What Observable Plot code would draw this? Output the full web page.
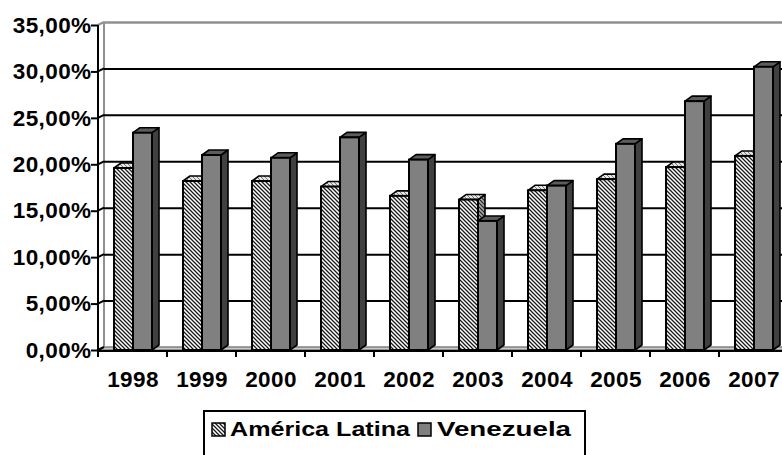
<!DOCTYPE html>
<html><head><meta charset="utf-8">
<script src="https://cdn.jsdelivr.net/npm/d3@7"></script>
<script src="https://cdn.jsdelivr.net/npm/@observablehq/plot@0.6"></script>
<style>
html,body{margin:0;padding:0;background:#fff;overflow:hidden;width:782px;height:455px;}
#chart{position:absolute;left:0;top:0;}
#legend{position:absolute;left:0;top:400px;}
</style></head><body>
<svg width="0" height="0" style="position:absolute">
<defs>
<pattern id="hatch" patternUnits="userSpaceOnUse" width="4" height="4">
<rect width="4" height="4" fill="#fff"/>
<path d="M-1,-1L5,5M-1,3L1,5M3,-1L5,1" stroke="#1a1a1a" stroke-width="1.3"/>
</pattern>
<pattern id="hatchTop" patternUnits="userSpaceOnUse" width="4" height="4">
<rect width="4" height="4" fill="#e6e6e6"/>
<path d="M-1,-1L5,5M-1,3L1,5M3,-1L5,1" stroke="#777" stroke-width="1"/>
</pattern>
<pattern id="hatchSide" patternUnits="userSpaceOnUse" width="4" height="4">
<rect width="4" height="4" fill="#a8a8a8"/>
<path d="M-1,-1L5,5M-1,3L1,5M3,-1L5,1" stroke="#222" stroke-width="1.2"/>
</pattern>
</defs></svg>
<div id="chart"></div>
<div id="legend"></div>
<script>
// ---- data ----
const years = ["1998","1999","2000","2001","2002","2003","2004","2005","2006","2007"];
const americaLatina = [19.6, 18.2, 18.2, 17.6, 16.6, 16.2, 17.2, 18.4, 19.7, 20.9];
const venezuela     = [23.4, 21.0, 20.7, 22.9, 20.5, 13.9, 17.7, 22.2, 26.8, 30.5];
const yTicks = [0, 5, 10, 15, 20, 25, 30, 35];
const seriesNames = ["América Latina", "Venezuela"];

const alData = years.map((year, i) => ({year, value: americaLatina[i], series: seriesNames[0]}));
const veData = years.map((year, i) => ({year, value: venezuela[i], series: seriesNames[1]}));

const fmt = d => d.toFixed(2).replace(".", ",") + "%";
const FONT = "Liberation Sans, Arial, sans-serif";

// geometry / style constants
const BAR_W = 19;          // front face width
const DX = 7, DY = 5;      // bar depth projection
const WX = 6, WY = 3;      // back wall offset
const series = [
  {data: alData, left: -18.5, front: "url(#hatch)", top: "url(#hatchTop)", side: "url(#hatchSide)"},
  {data: veData, left: 0.5, front: "#808080", top: "#5c5c5c", side: "#404040"}
];
function bandw(x) { return typeof x.bandwidth === "function" ? x.bandwidth() : (x(years[1]) - x(years[0])); }

// walls and floor
function decor(index, scales) {
  const x = scales.x, y = scales.y, bw = bandw(x);
  const x0 = x(years[0]), xEnd = x(years[years.length - 1]) + bw;
  const g = d3.create("svg:g");
  const top = y(yTicks[yTicks.length - 1]), base = y(0);
  g.append("path")
    .attr("d", `M${x0},${base}L${x0 + WX},${base - WY}L${xEnd + WX},${base - WY}L${xEnd},${base}Z`)
    .attr("fill", "#c8c8c8").attr("stroke", "#808080").attr("stroke-width", 1.5);
  g.append("line").attr("x1", x0 + WX).attr("x2", x0 + WX).attr("y1", top - WY).attr("y2", base - WY)
    .attr("stroke", "#909090").attr("stroke-width", 2);
  for (const t of yTicks) {
    g.append("line").attr("x1", x0).attr("y1", y(t)).attr("x2", x0 + WX).attr("y2", y(t) - WY)
      .attr("stroke", t === yTicks[yTicks.length - 1] ? "#909090" : "#000").attr("stroke-width", 2);
  }
  return g.node();
}
// 3D top and side faces of the bars
function faces(index, scales) {
  const x = scales.x, y = scales.y, bw = bandw(x);
  const g = d3.create("svg:g").attr("stroke", "#000").attr("stroke-width", 1.6).attr("stroke-linejoin", "round");
  years.forEach((yr, i) => {
    const c = x(yr) + bw / 2;
    for (const s of series) {
      const v = s.data[i].value;
      const a = c + s.left, b = a + BAR_W, yt = y(v), yb = y(0);
      g.append("path").attr("fill", s.side).attr("d", `M${b},${yt}L${b + DX},${yt - DY}L${b + DX},${yb - DY}L${b},${yb}Z`);
      g.append("path").attr("fill", s.top).attr("d", `M${a},${yt}L${a + DX},${yt - DY}L${b + DX},${yt - DY}L${b},${yt}Z`);
    }
  });
  return g.node();
}
// front axis lines and category separators
function frontAxes(index, scales) {
  const x = scales.x, y = scales.y, bw = bandw(x);
  const x0 = x(years[0]), xEnd = x(years[years.length - 1]) + bw;
  const g = d3.create("svg:g").attr("stroke", "#000").attr("stroke-width", 2);
  g.append("line").attr("x1", x0).attr("x2", x0).attr("y1", y(yTicks[yTicks.length - 1])).attr("y2", y(0) + 1);
  g.append("line").attr("x1", x0 - 1).attr("x2", xEnd).attr("y1", y(0) + 1).attr("y2", y(0) + 1);
  for (let i = 0; i <= years.length; i++) {
    const xx = i < years.length ? x(years[i]) : xEnd;
    g.append("line").attr("x1", xx).attr("x2", xx).attr("y1", y(0) + 1).attr("y2", y(0) + 7);
  }
  return g.node();
}
const barOpts = (s, insL, insR) => ({x: "year", y: "value", fill: s.front, stroke: "#000", strokeWidth: 2, insetLeft: insL, insetRight: insR});
const BW = 69; // band step: 690 / 10
const plot = Plot.plot({
  width: 782, height: 400,
  marginLeft: 98, marginRight: 0, marginTop: 25, marginBottom: 50,
  style: {background: "#fff", color: "#000", fontFamily: FONT, letterSpacing: "0.4px"},
  x: {type: "band", domain: years, range: [98, 788], padding: 0, label: null},
  y: {domain: [0, 35], range: [350, 25], label: null},
  marks: [
    decor,
    Plot.ruleY(yTicks.slice(1, -1), {stroke: "#000", strokeWidth: 2, dx: WX, dy: -WY}),
    Plot.ruleY([yTicks[yTicks.length - 1]], {stroke: "#909090", strokeWidth: 2.5, dx: WX, dy: -WY}),
    faces,
    Plot.barY(alData, barOpts(series[0], BW / 2 + series[0].left, BW / 2 - series[0].left - BAR_W)),
    Plot.barY(veData, barOpts(series[1], BW / 2 + series[1].left, BW / 2 - series[1].left - BAR_W)),
    frontAxes,
    Plot.axisY({ticks: yTicks, tickFormat: fmt, tickSize: 7, tickPadding: 0, strokeWidth: 2,
      fontSize: 22.5, fontWeight: "bold", fontFamily: FONT, fill: "#000", label: null}),
    Plot.axisX({tickSize: 0, tickPadding: 21, fontSize: 22.5, fontWeight: "bold", fontFamily: FONT, fill: "#000", label: null})
  ]
});
document.getElementById("chart").appendChild(plot);

// legend (below the chart)
const lg = d3.select("#legend").append("svg").attr("width", 782).attr("height", 55);
lg.append("rect").attr("x", 204).attr("y", 11).attr("width", 381).attr("height", 60)
  .attr("fill", "#fff").attr("stroke", "#000").attr("stroke-width", 2);
const items = [
  {name: seriesNames[0], fill: "url(#hatch)", sx: 212, tx: 230, len: 180},
  {name: seriesNames[1], fill: "#808080", sx: 418, tx: 437, len: 134}
];
for (const it of items) {
  lg.append("rect").attr("x", it.sx).attr("y", 23).attr("width", 13).attr("height", 13)
    .attr("fill", it.fill).attr("stroke", "#000").attr("stroke-width", 1.5);
  lg.append("text").attr("x", it.tx).attr("y", 36).attr("font-size", 21).attr("font-weight", "bold")
    .attr("font-family", FONT).attr("textLength", it.len).attr("lengthAdjust", "spacingAndGlyphs").text(it.name);
}
</script>
</body></html>
